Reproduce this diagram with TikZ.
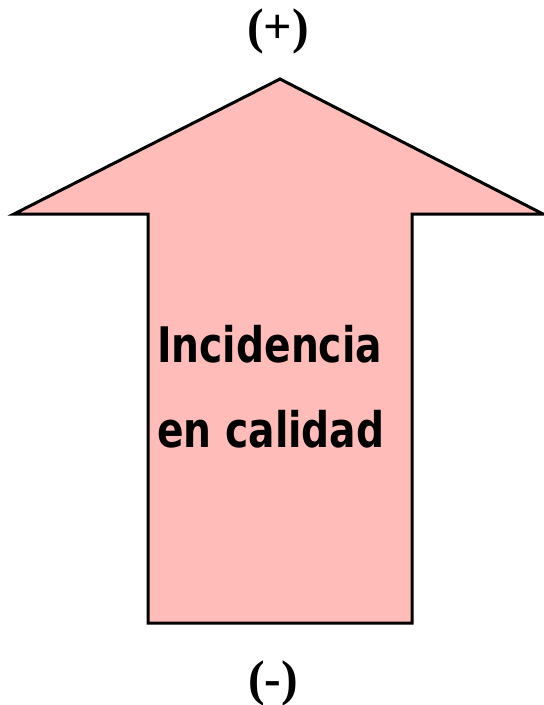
\documentclass[tikz,border=0pt]{standalone}
\usepackage{fontspec}
\setmainfont{DejaVu Sans}[FakeStretch=0.8]
\newfontfamily\signfont{Liberation Serif}
\usetikzlibrary{positioning}
\definecolor{arrowpink}{RGB}{255,188,184}
\begin{document}
\begin{tikzpicture}[x=1pt,y=1pt]
	\tikzstyle{every node}+=[inner sep=0pt]
	\tikzstyle{signtext}=[font=\signfont\bfseries\fontsize{50}{50}\selectfont]
	\tikzstyle{bodytext}=[font=\bfseries\fontsize{49}{85}\selectfont, align=left]
	\useasboundingbox (0,0) rectangle (544,-705);
	\draw [black, line width=3pt, line join=miter, fill=arrowpink] (280,-79) -- (543,-214) -- (412,-214) -- (412,-623) -- (148,-623) -- (148,-214) -- (14,-214) -- cycle;
	\node [bodytext, anchor=base west] (quality) at (157,-447) {Incidencia\\en calidad};
	\node [signtext] (plus) at (278,-31) {(+)};
	\node [signtext] (minus) at (273,-683) {(-)};
\end{tikzpicture}
\end{document}
